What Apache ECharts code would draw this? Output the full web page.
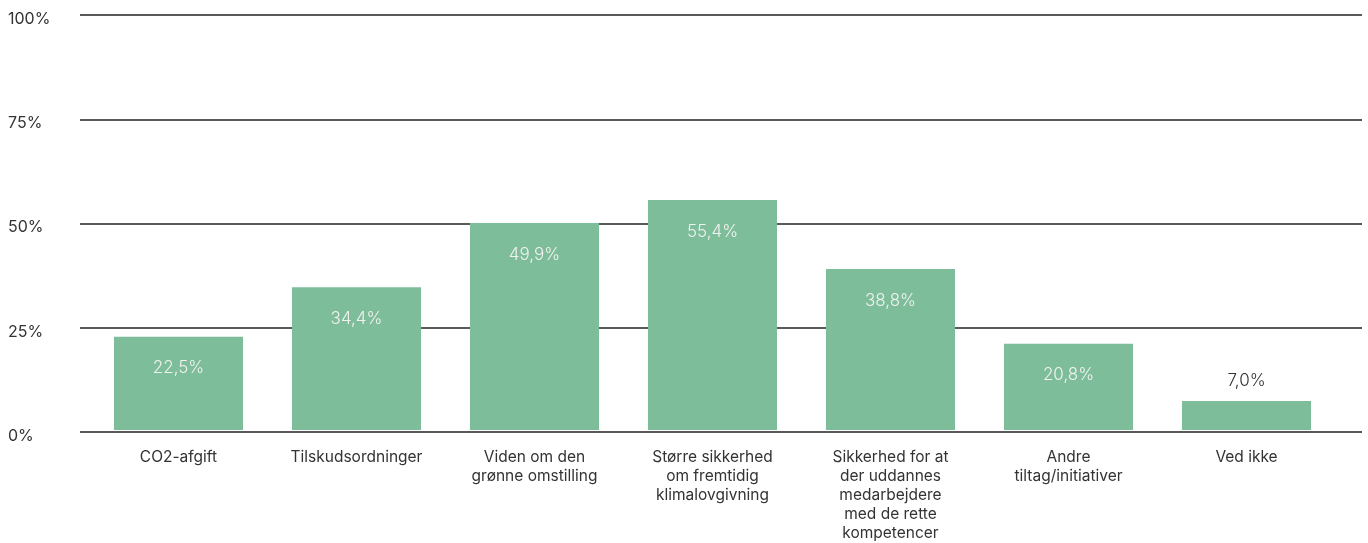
<!DOCTYPE html>
<html>
<head>
<meta charset="utf-8">
<script src="https://cdn.jsdelivr.net/npm/echarts@6/dist/echarts.min.js"></script>
<style>
  html, body { margin: 0; padding: 0; background: #fff; }
  #chart { width: 1368px; height: 543px; }
</style>
</head>
<body>
<div id="chart"></div>
<script>
const categories = [
  "CO2-afgift",
  "Tilskudsordninger",
  "Viden om den\ngrønne omstilling",
  "Større sikkerhed\nom fremtidig\nklimalovgivning",
  "Sikkerhed for at\nder uddannes\nmedarbejdere\nmed de rette\nkompetencer",
  "Andre\ntiltag/initiativer",
  "Ved ikke"
];
const values = [22.5, 34.4, 49.9, 55.4, 38.8, 20.8, 7.0];
const yTicks = [0, 25, 50, 75, 100];

const barColor = "#7dbd9a";
const font = "Inter, Lato, 'DejaVu Sans', sans-serif";

const seriesData = values.map(function (v) {
  const item = { value: v };
  if (v < 10) {
    item.label = { position: "top", color: "#333", distance: 12 };
  }
  return item;
});

const chart = echarts.init(document.getElementById("chart"));
chart.setOption({
  animation: false,
  grid: [
    // gridlines + y labels
    { left: 80, right: 6, top: 15, bottom: 111 },
    // bars + category labels
    { left: 89.5, right: 32.5, top: 15, bottom: 111 }
  ],
  xAxis: [
    { type: "category", gridIndex: 0, data: categories, show: false },
    {
      type: "category",
      gridIndex: 1,
      data: categories,
      axisLine: { show: false },
      axisTick: { show: false },
      axisLabel: {
        color: "#333",
        fontSize: 15.5,
        fontFamily: font,
        lineHeight: 19,
        margin: 18,
        interval: 0
      }
    }
  ],
  yAxis: [
    {
      type: "value",
      gridIndex: 0,
      min: yTicks[0],
      max: yTicks[yTicks.length - 1],
      interval: 25,
      axisLine: { show: false },
      axisTick: { show: false },
      splitLine: { lineStyle: { color: "#222", width: 1.5 } },
      axisLabel: {
        color: "#333",
        fontSize: 16,
        fontFamily: font,
        align: "left",
        verticalAlign: "top",
        lineHeight: 8,
        margin: 72,
        formatter: function (v) { return v + "%"; }
      }
    },
    {
      type: "value",
      gridIndex: 1,
      min: yTicks[0],
      max: yTicks[yTicks.length - 1],
      interval: 25,
      show: false,
      splitLine: { show: false }
    }
  ],
  series: [{
    type: "bar",
    xAxisIndex: 1,
    yAxisIndex: 1,
    data: seriesData,
    barWidth: "72.5%",
    itemStyle: { color: barColor },
    label: {
      show: true,
      position: "insideTop",
      distance: 23,
      color: "#f2f2f2",
      fontSize: 17,
      fontWeight: 300,
      fontFamily: font,
      formatter: function (p) { return p.value.toFixed(1).replace(".", ",") + "%"; }
    }
  }]
});
</script>
</body>
</html>
